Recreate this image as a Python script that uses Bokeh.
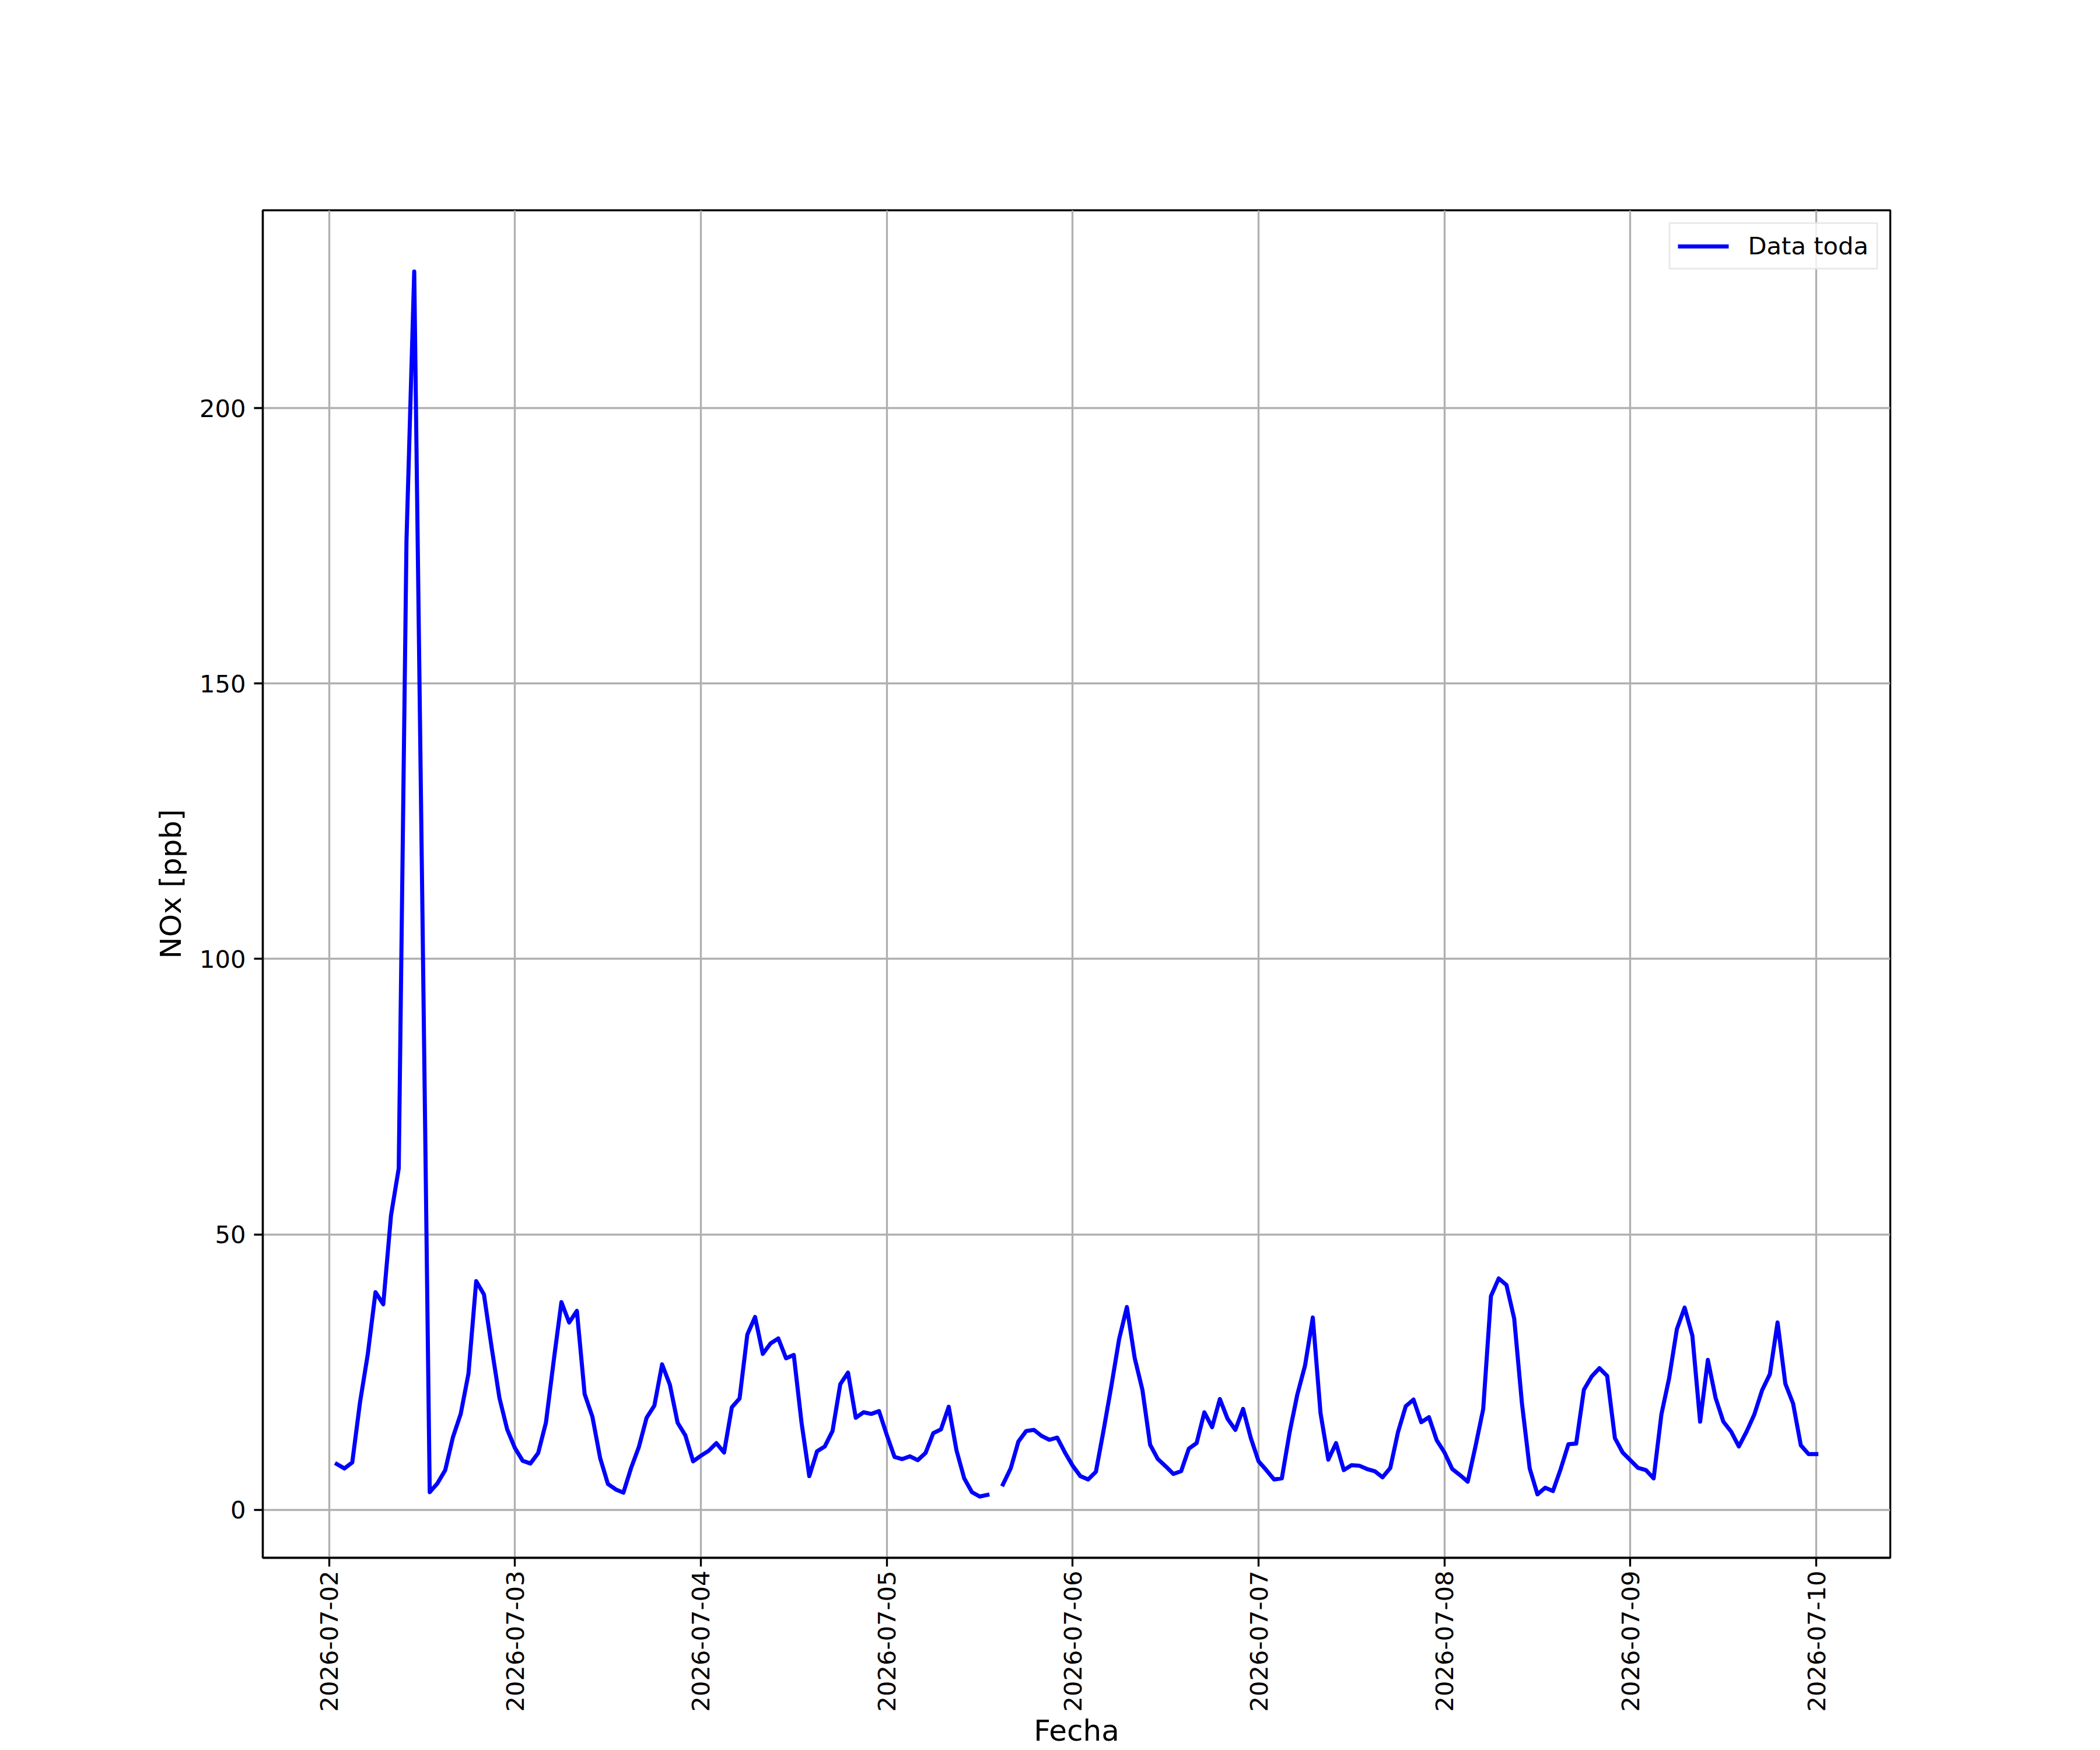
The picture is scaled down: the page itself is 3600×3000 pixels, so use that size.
import math
import numpy as np
import pandas as pd
from bokeh.plotting import figure
from bokeh.models import ColumnDataSource, Range1d, FixedTicker, DatetimeTickFormatter
from bokeh.embed import file_html
from bokeh.resources import INLINE

# ---------------- data (hourly NOx, ppb) ----------------
start_time = "2026-07-02 01:00"
nox_0702 = [8.3, 7.5, 8.6, 19.5, 28.2, 39.5, 37.3, 53.4, 62.0, 176.0, 224.8, 115.0,
            3.2, 4.8, 7.2, 13.2, 17.4, 24.7, 41.5, 39.1, 29.4, 20.3, 14.6]
nox_0703 = [11.2, 8.9, 8.4, 10.3, 15.8, 27.0, 37.7, 34.0, 36.1, 21.0, 16.9, 9.4,
            4.7, 3.7, 3.1, 7.6, 11.4, 16.7, 18.9, 26.4, 22.7, 15.8, 13.5, 8.8]
nox_0704 = [9.8, 10.7, 12.1, 10.4, 18.6, 20.2, 31.8, 35.0, 28.3, 30.2, 31.1, 27.5,
            28.1, 15.8, 6.1, 10.6, 11.5, 14.3, 22.8, 24.9, 16.7, 17.7, 17.4, 17.9]
nox_0705 = [13.6, 9.6, 9.2, 9.7, 9.0, 10.3, 13.9, 14.6, 18.7, 10.8, 5.7, 3.2,
            2.4, 2.7, float("nan"), 4.6, 7.5, 12.4, 14.3, 14.5, 13.4, 12.7, 13.1, 10.4]
nox_0706 = [8.0, 6.1, 5.5, 6.9, 14.5, 22.5, 31.0, 36.8, 27.6, 21.8, 11.8, 9.2,
            7.9, 6.5, 7.0, 11.1, 12.1, 17.7, 15.0, 20.1, 16.5, 14.5, 18.3, 13.0]
nox_0707 = [8.8, 7.2, 5.5, 5.7, 14.0, 20.9, 26.2, 34.9, 17.5, 9.1, 12.1, 7.2,
            8.1, 8.0, 7.4, 7.0, 5.9, 7.6, 14.1, 18.8, 20.0, 15.9, 16.8, 12.6]
nox_0708 = [10.4, 7.4, 6.3, 5.1, 11.5, 18.3, 38.8, 42.0, 40.8, 34.7, 19.3, 7.5,
            2.8, 4.0, 3.4, 7.4, 11.9, 12.0, 21.8, 24.2, 25.7, 24.3, 13.0, 10.4]
nox_0709 = [9.0, 7.6, 7.2, 5.7, 17.3, 23.9, 32.8, 36.7, 31.6, 16.0, 27.2, 20.3,
            16.0, 14.2, 11.5, 14.2, 17.3, 21.7, 24.6, 34.0, 22.9, 19.3, 11.7, 10.1]
nox_0710 = [10.1]

tick_dates = ["2026-07-02", "2026-07-03", "2026-07-04", "2026-07-05", "2026-07-06",
              "2026-07-07", "2026-07-08", "2026-07-09", "2026-07-10"]
y_ticks = [0, 50, 100, 150, 200]
series_label = "Data toda"
x_label = "Fecha"
y_label = "NOx [ppb]"

# ---------------- build ----------------
nox = (nox_0702 + nox_0703 + nox_0704 + nox_0705 + nox_0706 + nox_0707 +
       nox_0708 + nox_0709 + nox_0710)
times = pd.date_range(start_time, periods=len(nox), freq="h")
src = ColumnDataSource(dict(t=times, v=np.array(nox, dtype=float)))

t_ms = times.values.astype("datetime64[ms]").astype(np.int64).astype(float)
x_span = t_ms[-1] - t_ms[0]
v_arr = np.array(nox, dtype=float)
vmin, vmax = np.nanmin(v_arr), np.nanmax(v_arr)
y_span = vmax - vmin

FS_TICK = "41.67px"
FS_LABEL = "50px"
FONT = "DejaVu Sans"
W, H = 3600, 3000

p = figure(width=W, height=H, output_backend="svg", toolbar_location=None,
           x_axis_type="datetime",
           x_range=Range1d(t_ms[0] - 0.05 * x_span, t_ms[-1] + 0.05 * x_span),
           y_range=Range1d(vmin - 0.05 * y_span, vmax + 0.05 * y_span),
           min_border_left=450, min_border_right=360, min_border_top=360,
           min_border_bottom=330)
p.background_fill_color = "white"
p.border_fill_color = "white"
p.outline_line_color = "black"
p.outline_line_width = 3.33

p.line("t", "v", source=src, line_color="#0000ff", line_width=7,
       line_join="round", line_cap="square", legend_label=series_label)

tick_ms = [pd.Timestamp(d).value / 1e6 for d in tick_dates]
p.xaxis.ticker = FixedTicker(ticks=tick_ms)
fmt = "%Y-%m-%d"
p.xaxis.formatter = DatetimeTickFormatter(microseconds=fmt, milliseconds=fmt, seconds=fmt,
                                          minsec=fmt, minutes=fmt, hourmin=fmt, hours=fmt,
                                          days=fmt, months=fmt, years=fmt)
p.yaxis.ticker = FixedTicker(ticks=y_ticks)

for ax in (p.xaxis[0], p.yaxis[0]):
    ax.major_label_text_font = FONT
    ax.major_label_text_font_size = FS_TICK
    ax.major_label_text_color = "black"
    ax.major_tick_out = 15
    ax.major_tick_in = 0
    ax.minor_tick_out = 0
    ax.minor_tick_in = 0
    ax.major_tick_line_width = 3.33
    ax.major_tick_line_color = "black"
    ax.axis_line_color = "black"
    ax.axis_line_width = 3.33
    ax.major_label_standoff = 14
    ax.axis_label_text_font = FONT
    ax.axis_label_text_font_size = FS_LABEL
    ax.axis_label_text_font_style = "normal"
    ax.axis_label_text_color = "black"

p.xaxis.major_label_orientation = math.pi / 2
p.xaxis.major_label_standoff = 7
p.xaxis.axis_label = x_label
p.xaxis.axis_label_standoff = 0

p.yaxis.axis_label = y_label
p.yaxis.axis_label_standoff = 17

p.xgrid.grid_line_color = "#b0b0b0"
p.ygrid.grid_line_color = "#b0b0b0"
p.xgrid.grid_line_width = 3.33
p.ygrid.grid_line_width = 3.33

lg = p.legend[0]
lg.location = "top_right"
lg.margin = 21
lg.padding = 13
lg.spacing = 0
lg.glyph_width = 87
lg.glyph_height = 40
lg.label_height = 40
lg.label_standoff = 33
lg.label_text_font = FONT
lg.label_text_font_size = FS_TICK
lg.label_text_color = "black"
lg.border_line_color = "#d6d6d6"
lg.border_line_width = 3.33
lg.background_fill_color = "white"
lg.background_fill_alpha = 0.8

open("out.html", "w").write(file_html(p, INLINE))
